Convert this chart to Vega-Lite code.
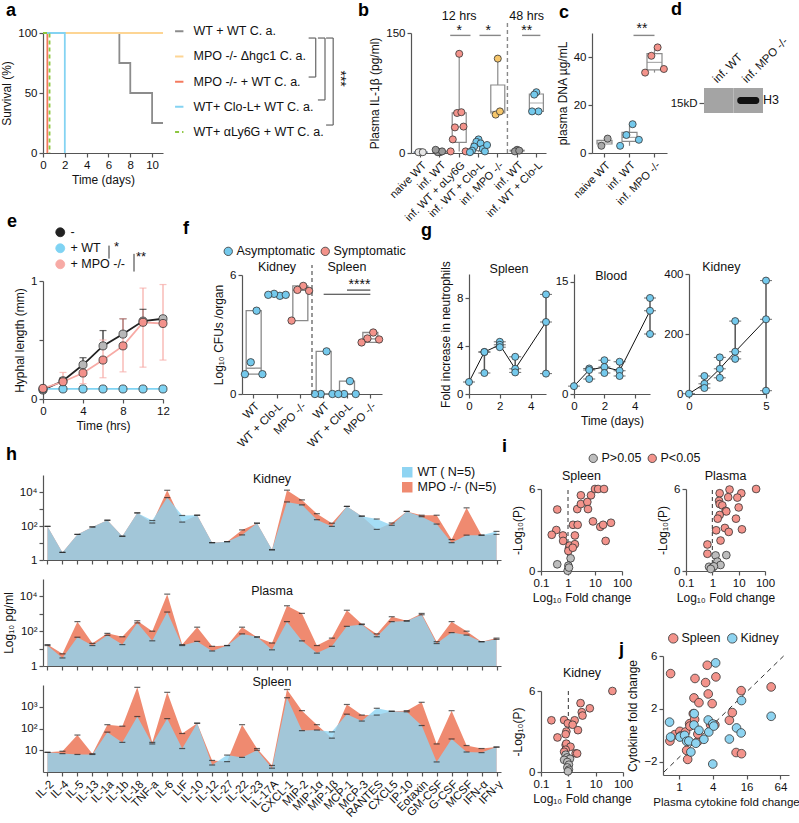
{
"$schema":"https://vega.github.io/schema/vega-lite/v6.json",
"background":"white",
"padding":{"left":0,"top":1,"right":5,"bottom":3},
"config":{
 "font":"Liberation Sans",
 "view":{"stroke":null},
 "axis":{"grid":false,"domainColor":"#555","tickColor":"#555","labelColor":"#111","titleColor":"#111","labelFontSize":11.5,"titleFontSize":12,"titleFontWeight":"normal","tickSize":4,"labelPadding":2,"titlePadding":4,"domainWidth":1.2,"tickWidth":1.2,"labelFlush":false,"labelOverlap":false},
 "title":{"fontSize":18,"fontWeight":"bold","anchor":"start","frame":"group","color":"#000","offset":0},
 "legend":{"labelFontSize":12,"labelColor":"#111"},
 "text":{"fontSize":12,"color":"#111"}
},
"datasets":{
 "surv":[
  {"grp":"WT + WT C. a.","t":0,"s":100},{"grp":"WT + WT C. a.","t":7,"s":75},{"grp":"WT + WT C. a.","t":8,"s":50},{"grp":"WT + WT C. a.","t":10,"s":25},{"grp":"WT + WT C. a.","t":11,"s":25},
  {"grp":"MPO -/- Δhgc1 C. a.","t":0,"s":100},{"grp":"MPO -/- Δhgc1 C. a.","t":11,"s":100},
  {"grp":"MPO -/- + WT C. a.","t":0,"s":100},{"grp":"MPO -/- + WT C. a.","t":0.4,"s":0},
  {"grp":"WT+ Clo-L+ WT C. a.","t":0,"s":100},{"grp":"WT+ Clo-L+ WT C. a.","t":2,"s":0},
  {"grp":"WT+ αLy6G + WT C. a.","t":0,"s":100},{"grp":"WT+ αLy6G + WT C. a.","t":0.6,"s":0}
 ],
 "il1b":[
  {"g":"naive WT","r":0,"v":1},{"g":"naive WT","r":1,"v":1},{"g":"naive WT","r":2,"v":1},
  {"g":"inf. WT","r":0,"v":1},{"g":"inf. WT","r":1,"v":1},{"g":"inf. WT","r":2,"v":2},{"g":"inf. WT","r":3,"v":4},
  {"g":"inf. WT + αLy6G","r":0,"v":124},{"g":"inf. WT + αLy6G","r":1,"v":50},{"g":"inf. WT + αLy6G","r":2,"v":51},{"g":"inf. WT + αLy6G","r":3,"v":32},{"g":"inf. WT + αLy6G","r":4,"v":33},{"g":"inf. WT + αLy6G","r":5,"v":17},{"g":"inf. WT + αLy6G","r":6,"v":2},{"g":"inf. WT + αLy6G","r":7,"v":2},
  {"g":"inf. WT + Clo-L","r":0,"v":17},{"g":"inf. WT + Clo-L","r":1,"v":14},{"g":"inf. WT + Clo-L","r":2,"v":12},{"g":"inf. WT + Clo-L","r":3,"v":8},{"g":"inf. WT + Clo-L","r":4,"v":5},{"g":"inf. WT + Clo-L","r":5,"v":3},{"g":"inf. WT + Clo-L","r":6,"v":2},{"g":"inf. WT + Clo-L","r":7,"v":1},{"g":"inf. WT + Clo-L","r":8,"v":10},
  {"g":"inf. MPO -/-","r":0,"v":118},{"g":"inf. MPO -/-","r":1,"v":48},{"g":"inf. MPO -/-","r":2,"v":52},
  {"g":"inf. WT ","r":0,"v":4},{"g":"inf. WT ","r":1,"v":2},{"g":"inf. WT ","r":2,"v":3},
  {"g":"inf. WT + Clo-L ","r":0,"v":76},{"g":"inf. WT + Clo-L ","r":1,"v":73},{"g":"inf. WT + Clo-L ","r":2,"v":52},{"g":"inf. WT + Clo-L ","r":3,"v":52}
 ],
 "dna":[
  {"g":"naive WT","r":0,"v":6},{"g":"naive WT","r":1,"v":3},
  {"g":"inf. WT","r":0,"v":12},{"g":"inf. WT","r":1,"v":7.5},{"g":"inf. WT","r":2,"v":5.5},{"g":"inf. WT","r":3,"v":3},
  {"g":"inf. MPO -/-","r":0,"v":44},{"g":"inf. MPO -/-","r":1,"v":40.5},{"g":"inf. MPO -/-","r":2,"v":35},{"g":"inf. MPO -/-","r":3,"v":33.5}
 ],
 "blot":[{"lane":"inf. WT","h":0},{"lane":"inf. MPO -/-","h":1}],
 "hyph":[
  {"grp":"-","t":0,"m":0.076,"lo":0.076,"hi":0.09},{"grp":"-","t":2,"m":0.155,"lo":0.155,"hi":0.18},{"grp":"-","t":4,"m":0.29,"lo":0.29,"hi":0.35},{"grp":"-","t":6,"m":0.45,"lo":0.45,"hi":0.58},{"grp":"-","t":8,"m":0.55,"lo":0.55,"hi":0.68},{"grp":"-","t":10,"m":0.66,"lo":0.66,"hi":0.76},{"grp":"-","t":12,"m":0.68,"lo":0.68,"hi":0.7},
  {"grp":"+ WT","t":0,"m":0.085,"lo":0.085,"hi":0.085},{"grp":"+ WT","t":2,"m":0.085,"lo":0.085,"hi":0.085},{"grp":"+ WT","t":4,"m":0.085,"lo":0.085,"hi":0.085},{"grp":"+ WT","t":6,"m":0.085,"lo":0.085,"hi":0.085},{"grp":"+ WT","t":8,"m":0.085,"lo":0.085,"hi":0.085},{"grp":"+ WT","t":10,"m":0.085,"lo":0.085,"hi":0.085},{"grp":"+ WT","t":12,"m":0.085,"lo":0.085,"hi":0.085},
  {"grp":"+ MPO -/-","t":0,"m":0.09,"lo":0.08,"hi":0.1},{"grp":"+ MPO -/-","t":2,"m":0.146,"lo":0.08,"hi":0.225},{"grp":"+ MPO -/-","t":4,"m":0.22,"lo":0.13,"hi":0.3},{"grp":"+ MPO -/-","t":6,"m":0.33,"lo":0.18,"hi":0.5},{"grp":"+ MPO -/-","t":8,"m":0.45,"lo":0.23,"hi":0.68},{"grp":"+ MPO -/-","t":10,"m":0.65,"lo":0.27,"hi":0.94},{"grp":"+ MPO -/-","t":12,"m":0.64,"lo":0.33,"hi":0.97}
 ],
 "cfu":[
  {"g":"WT","r":0,"v":4.2,"st":"Asymptomatic"},{"g":"WT","r":1,"v":1.6,"st":"Asymptomatic"},{"g":"WT","r":2,"v":1.0,"st":"Asymptomatic"},{"g":"WT","r":3,"v":1.0,"st":"Asymptomatic"},
  {"g":"WT + Clo-L","r":0,"v":4.95,"st":"Asymptomatic"},{"g":"WT + Clo-L","r":1,"v":5.05,"st":"Asymptomatic"},{"g":"WT + Clo-L","r":2,"v":5.0,"st":"Asymptomatic"},{"g":"WT + Clo-L","r":3,"v":5.0,"st":"Asymptomatic"},
  {"g":"MPO -/-","r":0,"v":5.45,"st":"Symptomatic"},{"g":"MPO -/-","r":1,"v":5.25,"st":"Symptomatic"},{"g":"MPO -/-","r":2,"v":5.2,"st":"Symptomatic"},{"g":"MPO -/-","r":3,"v":3.7,"st":"Symptomatic"},
  {"g":"WT ","r":0,"v":2.15,"st":"Asymptomatic"},{"g":"WT ","r":1,"v":0,"st":"Asymptomatic"},{"g":"WT ","r":2,"v":0,"st":"Asymptomatic"},{"g":"WT ","r":3,"v":0,"st":"Asymptomatic"},
  {"g":"WT + Clo-L ","r":0,"v":0.65,"st":"Asymptomatic"},{"g":"WT + Clo-L ","r":1,"v":0,"st":"Asymptomatic"},{"g":"WT + Clo-L ","r":2,"v":0,"st":"Asymptomatic"},{"g":"WT + Clo-L ","r":3,"v":0,"st":"Asymptomatic"},
  {"g":"MPO -/- ","r":0,"v":3.1,"st":"Symptomatic"},{"g":"MPO -/- ","r":1,"v":2.8,"st":"Symptomatic"},{"g":"MPO -/- ","r":2,"v":2.75,"st":"Symptomatic"},{"g":"MPO -/- ","r":3,"v":2.6,"st":"Symptomatic"}
 ],
 "neutS":[{"d":0,"v":1},{"d":1,"v":3.5},{"d":1,"v":3.5},{"d":1,"v":1.75},{"d":2,"v":4.35},{"d":2,"v":4.1},{"d":2,"v":3.9},{"d":3,"v":3.1},{"d":3,"v":2.1},{"d":3,"v":1.8},{"d":5,"v":8.3},{"d":5,"v":6.0},{"d":5,"v":1.7}],
 "neutB":[{"d":0,"v":1.05},{"d":1,"v":3.4},{"d":1,"v":3.2},{"d":1,"v":2.0},{"d":2,"v":4.5},{"d":2,"v":3.6},{"d":2,"v":2.8},{"d":3,"v":4.3},{"d":3,"v":3.1},{"d":3,"v":2.4},{"d":5,"v":12.8},{"d":5,"v":11.1},{"d":5,"v":8.0}],
 "neutK":[{"d":0,"v":1},{"d":1,"v":60},{"d":1,"v":34},{"d":1,"v":20},{"d":2,"v":122},{"d":2,"v":84},{"d":2,"v":54},{"d":3,"v":243},{"d":3,"v":141},{"d":3,"v":117},{"d":5,"v":378},{"d":5,"v":249},{"d":5,"v":11}],
 "cytoK":[{"c":"IL-2","wt":95,"mpo":95},{"c":"IL-4","wt":2.8,"mpo":2.8},{"c":"IL-5","wt":32,"mpo":32},{"c":"IL-13","wt":88,"mpo":88},{"c":"IL-1a","wt":218,"mpo":218},{"c":"IL-1b","wt":25,"mpo":25},{"c":"IL-18","wt":590,"mpo":590},{"c":"TNF-a","wt":210,"mpo":150},{"c":"IL-6","wt":4700,"mpo":12600},{"c":"LIF","wt":415,"mpo":170},{"c":"IL-10","wt":430,"mpo":430},{"c":"IL-12","wt":10.5,"mpo":10.5},{"c":"IL-27","wt":12,"mpo":12},{"c":"IL-22","wt":30,"mpo":59},{"c":"IL-23","wt":146,"mpo":146},{"c":"IL-17A","wt":4,"mpo":4},{"c":"CXCL-1","wt":2600,"mpo":12800},{"c":"MIP-2","wt":1750,"mpo":3400},{"c":"MIP-1α","wt":235,"mpo":530},{"c":"MIP-1β","wt":95,"mpo":146},{"c":"MCP-1","wt":1420,"mpo":1420},{"c":"MCP-3","wt":380,"mpo":380},{"c":"RANTES","wt":257,"mpo":63},{"c":"CXCL5","wt":110,"mpo":150},{"c":"IP-10","wt":720,"mpo":720},{"c":"Eotaxin","wt":355,"mpo":430},{"c":"GM-CSF","wt":130,"mpo":430},{"c":"G-CSF","wt":10.5,"mpo":16},{"c":"MCSF","wt":29,"mpo":1170},{"c":"IFN-α","wt":29,"mpo":29},{"c":"IFN-γ","wt":48,"mpo":32}],
 "cytoP":[{"c":"IL-2","wt":15,"mpo":17},{"c":"IL-4","wt":2.9,"mpo":5},{"c":"IL-5","wt":45,"mpo":355},{"c":"IL-13","wt":15,"mpo":20},{"c":"IL-1a","wt":58,"mpo":75},{"c":"IL-1b","wt":17,"mpo":48},{"c":"IL-18","wt":300,"mpo":400},{"c":"TNF-a","wt":28,"mpo":100},{"c":"IL-6","wt":1260,"mpo":13500},{"c":"LIF","wt":15,"mpo":17},{"c":"IL-10","wt":26,"mpo":170},{"c":"IL-12","wt":7.3,"mpo":13.5},{"c":"IL-27","wt":15,"mpo":15},{"c":"IL-22","wt":70,"mpo":170},{"c":"IL-23","wt":48,"mpo":45},{"c":"IL-17A","wt":8.5,"mpo":21},{"c":"CXCL-1","wt":355,"mpo":2900},{"c":"MIP-2","wt":28,"mpo":1050},{"c":"MIP-1α","wt":5.5,"mpo":15},{"c":"MIP-1β","wt":13.5,"mpo":40},{"c":"MCP-1","wt":190,"mpo":1600},{"c":"MCP-3","wt":240,"mpo":260},{"c":"RANTES","wt":48,"mpo":70},{"c":"CXCL5","wt":355,"mpo":680},{"c":"IP-10","wt":380,"mpo":400},{"c":"Eotaxin","wt":880,"mpo":1050},{"c":"GM-CSF","wt":19.5,"mpo":25},{"c":"G-CSF","wt":83,"mpo":355},{"c":"MCSF","wt":60,"mpo":100},{"c":"IFN-α","wt":25,"mpo":25},{"c":"IFN-γ","wt":34,"mpo":40}],
 "cytoS":[{"c":"IL-2","wt":8,"mpo":8},{"c":"IL-4","wt":7,"mpo":9},{"c":"IL-5","wt":6.4,"mpo":50},{"c":"IL-13","wt":6.4,"mpo":6.9},{"c":"IL-1a","wt":68,"mpo":150},{"c":"IL-1b","wt":23,"mpo":128},{"c":"IL-18","wt":355,"mpo":7800},{"c":"TNF-a","wt":19.5,"mpo":23},{"c":"IL-6","wt":285,"mpo":4600},{"c":"LIF","wt":12,"mpo":59},{"c":"IL-10","wt":175,"mpo":175},{"c":"IL-12","wt":2.1,"mpo":3.4},{"c":"IL-27","wt":6,"mpo":3},{"c":"IL-22","wt":4.7,"mpo":150},{"c":"IL-23","wt":10,"mpo":12},{"c":"IL-17A","wt":1.5,"mpo":2},{"c":"CXCL-1","wt":2600,"mpo":6200},{"c":"MIP-2","wt":80,"mpo":660},{"c":"MIP-1α","wt":85,"mpo":150},{"c":"MIP-1β","wt":70,"mpo":36},{"c":"MCP-1","wt":455,"mpo":1270},{"c":"MCP-3","wt":220,"mpo":415},{"c":"RANTES","wt":850,"mpo":415},{"c":"CXCL5","wt":620,"mpo":620},{"c":"IP-10","wt":585,"mpo":660},{"c":"Eotaxin","wt":137,"mpo":1600},{"c":"GM-CSF","wt":2.9,"mpo":19.5},{"c":"G-CSF","wt":33,"mpo":660},{"c":"MCSF","wt":8.3,"mpo":16.5},{"c":"IFN-α","wt":7.8,"mpo":12},{"c":"IFN-γ","wt":14,"mpo":14}],
 "volS":[{"fc":0.4,"p":4.5,"sig":"P<0.05"},{"fc":0.37,"p":3.0,"sig":"P<0.05"},{"fc":0.25,"p":2.65,"sig":"P<0.05"},{"fc":0.65,"p":2.6,"sig":"P<0.05"},{"fc":0.66,"p":2.2,"sig":"P<0.05"},{"fc":1.09,"p":1.67,"sig":"P<0.05"},{"fc":1.15,"p":1.86,"sig":"P<0.05"},{"fc":1.03,"p":1.47,"sig":"P<0.05"},{"fc":1.53,"p":3.38,"sig":"P<0.05"},{"fc":2.28,"p":3.38,"sig":"P<0.05"},{"fc":1.8,"p":2.6,"sig":"P<0.05"},{"fc":1.8,"p":1.96,"sig":"P<0.05"},{"fc":1.5,"p":1.7,"sig":"P<0.05"},{"fc":2.2,"p":4.53,"sig":"P<0.05"},{"fc":3.0,"p":4.9,"sig":"P<0.05"},{"fc":3.0,"p":5.54,"sig":"P<0.05"},{"fc":5.2,"p":5.05,"sig":"P<0.05"},{"fc":5.5,"p":4.53,"sig":"P<0.05"},{"fc":7.1,"p":5.54,"sig":"P<0.05"},{"fc":10,"p":6.0,"sig":"P<0.05"},{"fc":13,"p":6.0,"sig":"P<0.05"},{"fc":21.6,"p":6.0,"sig":"P<0.05"},{"fc":8.4,"p":3.63,"sig":"P<0.05"},{"fc":15.7,"p":3.23,"sig":"P<0.05"},{"fc":20,"p":3.38,"sig":"P<0.05"},{"fc":39,"p":3.53,"sig":"P<0.05"},{"fc":24.8,"p":2.2,"sig":"P<0.05"},
  {"fc":0.4,"p":0.49,"sig":"P>0.05"},{"fc":1.25,"p":0.93,"sig":"P>0.05"},{"fc":1.03,"p":0.39,"sig":"P>0.05"},{"fc":0.97,"p":0.02,"sig":"P>0.05"},{"fc":1.09,"p":0.25,"sig":"P>0.05"}],
 "volP":[{"fc":4.5,"p":5.96,"sig":"P<0.05"},{"fc":46,"p":6.0,"sig":"P<0.05"},{"fc":1.9,"p":5.69,"sig":"P<0.05"},{"fc":12.6,"p":5.69,"sig":"P<0.05"},{"fc":4,"p":5.4,"sig":"P<0.05"},{"fc":8.9,"p":5.37,"sig":"P<0.05"},{"fc":1.8,"p":5.13,"sig":"P<0.05"},{"fc":1.9,"p":4.9,"sig":"P<0.05"},{"fc":2.4,"p":4.8,"sig":"P<0.05"},{"fc":3.2,"p":4.4,"sig":"P<0.05"},{"fc":3.4,"p":4.36,"sig":"P<0.05"},{"fc":10,"p":4.65,"sig":"P<0.05"},{"fc":1.9,"p":4.1,"sig":"P<0.05"},{"fc":1.6,"p":3.83,"sig":"P<0.05"},{"fc":7.9,"p":3.83,"sig":"P<0.05"},{"fc":1.4,"p":2.98,"sig":"P<0.05"},{"fc":3,"p":3.15,"sig":"P<0.05"},{"fc":4.2,"p":2.86,"sig":"P<0.05"},{"fc":13.3,"p":3.05,"sig":"P<0.05"},{"fc":2.05,"p":2.23,"sig":"P<0.05"},{"fc":0.65,"p":1.94,"sig":"P<0.05"},{"fc":0.65,"p":1.26,"sig":"P<0.05"},
  {"fc":1.33,"p":1.14,"sig":"P>0.05"},{"fc":3.4,"p":1.16,"sig":"P>0.05"},{"fc":1.55,"p":0.68,"sig":"P>0.05"},{"fc":2.05,"p":0.44,"sig":"P>0.05"},{"fc":0.75,"p":0.31,"sig":"P>0.05"},{"fc":1.0,"p":0.24,"sig":"P>0.05"},{"fc":1.15,"p":0.34,"sig":"P>0.05"},{"fc":0.87,"p":0.15,"sig":"P>0.05"}],
 "volK":[{"fc":41,"p":6.0,"sig":"P<0.05"},{"fc":2.8,"p":5.1,"sig":"P<0.05"},{"fc":6.1,"p":4.72,"sig":"P<0.05"},{"fc":3.1,"p":4.43,"sig":"P<0.05"},{"fc":3.3,"p":4.18,"sig":"P<0.05"},{"fc":0.24,"p":3.83,"sig":"P<0.05"},{"fc":0.7,"p":3.85,"sig":"P<0.05"},{"fc":1.7,"p":3.83,"sig":"P<0.05"},{"fc":0.96,"p":3.6,"sig":"P<0.05"},{"fc":1.44,"p":3.5,"sig":"P<0.05"},{"fc":2.25,"p":3.1,"sig":"P<0.05"},{"fc":0.85,"p":3.0,"sig":"P<0.05"},{"fc":0.8,"p":2.8,"sig":"P<0.05"},{"fc":0.4,"p":2.56,"sig":"P<0.05"},{"fc":0.8,"p":2.0,"sig":"P<0.05"},{"fc":0.84,"p":2.1,"sig":"P<0.05"},{"fc":1.2,"p":1.87,"sig":"P<0.05"},{"fc":1.85,"p":1.38,"sig":"P<0.05"},{"fc":2.1,"p":1.37,"sig":"P<0.05"},{"fc":0.8,"p":1.65,"sig":"P<0.05"},{"fc":0.7,"p":1.5,"sig":"P<0.05"},
  {"fc":0.8,"p":1.28,"sig":"P>0.05"},{"fc":0.9,"p":1.08,"sig":"P>0.05"},{"fc":1.15,"p":0.98,"sig":"P>0.05"},{"fc":0.7,"p":0.9,"sig":"P>0.05"},{"fc":0.92,"p":0.74,"sig":"P>0.05"},{"fc":1.05,"p":0.54,"sig":"P>0.05"},{"fc":0.92,"p":0.34,"sig":"P>0.05"},{"fc":1.05,"p":0.17,"sig":"P>0.05"},{"fc":0.97,"p":0.05,"sig":"P>0.05"}],
 "jsc":[{"o":"Spleen","x":0.69,"y":-0.43},{"o":"Spleen","x":0.71,"y":4.67},{"o":"Spleen","x":0.84,"y":0.05},{"o":"Spleen","x":1.04,"y":0.3},{"o":"Spleen","x":1.07,"y":-0.05},{"o":"Spleen","x":1.31,"y":0.25},{"o":"Spleen","x":1.37,"y":-1.14},{"o":"Spleen","x":1.43,"y":-1.82},{"o":"Spleen","x":1.55,"y":0.88},{"o":"Spleen","x":1.57,"y":0.7},{"o":"Spleen","x":1.85,"y":2.83},{"o":"Spleen","x":1.93,"y":4.3},{"o":"Spleen","x":1.8,"y":1.64},{"o":"Spleen","x":1.9,"y":1.21},{"o":"Spleen","x":2.12,"y":-0.5},{"o":"Spleen","x":2.17,"y":0.1},{"o":"Spleen","x":2.27,"y":2.47},{"o":"Spleen","x":2.98,"y":3.99},{"o":"Spleen","x":3.19,"y":5.3},{"o":"Spleen","x":3.32,"y":3.13},{"o":"Spleen","x":3.9,"y":2.4},{"o":"Spleen","x":3.66,"y":0.8},{"o":"Spleen","x":4.36,"y":0.8},{"o":"Spleen","x":4.55,"y":4.42},{"o":"Spleen","x":7.9,"y":1.14},{"o":"Spleen","x":8.9,"y":1.72},{"o":"Spleen","x":10.4,"y":-1.3},{"o":"Spleen","x":12.8,"y":3.38},{"o":"Spleen","x":13.0,"y":-1.39},{"o":"Spleen","x":43.8,"y":3.66},
  {"o":"Kidney","x":0.68,"y":1.0},{"o":"Kidney","x":0.71,"y":-0.13},{"o":"Kidney","x":1.04,"y":-0.13},{"o":"Kidney","x":1.26,"y":0},{"o":"Kidney","x":1.37,"y":-0.45},{"o":"Kidney","x":1.5,"y":-0.43},{"o":"Kidney","x":1.63,"y":-1.26},{"o":"Kidney","x":1.85,"y":0.78},{"o":"Kidney","x":1.87,"y":1.64},{"o":"Kidney","x":2.0,"y":-0.6},{"o":"Kidney","x":2.27,"y":0.38},{"o":"Kidney","x":2.78,"y":-0.3},{"o":"Kidney","x":3.32,"y":1.16},{"o":"Kidney","x":3.4,"y":0.25},{"o":"Kidney","x":4.0,"y":0.86},{"o":"Kidney","x":4.17,"y":0.7},{"o":"Kidney","x":4.5,"y":5.48},{"o":"Kidney","x":4.0,"y":-2.17},{"o":"Kidney","x":7.9,"y":-0.28},{"o":"Kidney","x":10.6,"y":0.56},{"o":"Kidney","x":12.8,"y":0.18},{"o":"Kidney","x":13.0,"y":2.63},{"o":"Kidney","x":43.8,"y":1.44}],
 "diag":[{"x":0.54,"y":-2.78},{"x":73,"y":6}]
},
"resolve":{"scale":{"color":"independent","fill":"independent","stroke":"independent","strokeDash":"independent","opacity":"independent","xOffset":"independent"}},
"vconcat":[
 {"resolve":{"scale":{"color":"independent","fill":"independent","stroke":"independent","strokeDash":"independent","opacity":"independent","xOffset":"independent"}},
  "vconcat":[
  {"resolve":{"scale":{"color":"independent","fill":"independent","stroke":"independent","strokeDash":"independent","opacity":"independent","xOffset":"independent"}},
   "hconcat":[
   {"title":{"text":"a","dx":-37,"offset":5},
    "width":368,"height":120,
    "layer":[
     {"data":{"name":"surv"},"mark":{"type":"line","interpolate":"step-after","strokeWidth":1.8},
      "encoding":{
       "x":{"field":"t","type":"quantitative","scale":{"domain":[0,11],"nice":false,"range":[0,120]},"axis":{"values":[0,2,4,6,8,10],"title":"Time (days)"}},
       "y":{"field":"s","type":"quantitative","scale":{"domain":[0,100],"nice":false},"axis":{"values":[0,50,100],"title":"Survival (%)"}},
       "color":{"field":"grp","type":"nominal","scale":{"domain":["WT + WT C. a.","MPO -/- Δhgc1 C. a.","MPO -/- + WT C. a.","WT+ Clo-L+ WT C. a.","WT+ αLy6G + WT C. a."],"range":["#8c8c8c","#fdd594","#f47a5e","#84d3f2","#8cc63f"]},
        "legend":{"orient":"none","legendX":130,"legendY":-8,"title":null,"symbolType":"stroke","symbolSize":70,"symbolStrokeWidth":2,"rowPadding":12.2,"labelFontSize":12.5,"labelOffset":8,
         "encode":{"symbols":{"update":{"strokeDash":{"signal":"datum.value === 'WT+ αLy6G + WT C. a.' ? [3,2] : [1,0]"}}}}}},
       "strokeDash":{"field":"grp","type":"nominal","scale":{"domain":["WT + WT C. a.","MPO -/- Δhgc1 C. a.","MPO -/- + WT C. a.","WT+ Clo-L+ WT C. a.","WT+ αLy6G + WT C. a."],"range":[[1,0],[1,0],[1,0],[1,0],[4,3]]},"legend":null}
      }},
     {"data":{"values":[{}]},"mark":{"type":"rule","color":"#666","strokeWidth":1.2},"encoding":{"x":{"datum":25.0},"y":{"datum":95.8},"y2":{"datum":63.3}}},
     {"data":{"values":[{}]},"mark":{"type":"rule","color":"#666","strokeWidth":1.2},"encoding":{"x":{"datum":24.35},"x2":{"datum":25.0},"y":{"datum":95.8}}},
     {"data":{"values":[{}]},"mark":{"type":"rule","color":"#666","strokeWidth":1.2},"encoding":{"x":{"datum":24.35},"x2":{"datum":25.0},"y":{"datum":63.3}}},
     {"data":{"values":[{}]},"mark":{"type":"rule","color":"#666","strokeWidth":1.2},"encoding":{"x":{"datum":25.85},"y":{"datum":95.8},"y2":{"datum":44.2}}},
     {"data":{"values":[{}]},"mark":{"type":"rule","color":"#666","strokeWidth":1.2},"encoding":{"x":{"datum":25.2},"x2":{"datum":25.85},"y":{"datum":95.8}}},
     {"data":{"values":[{}]},"mark":{"type":"rule","color":"#666","strokeWidth":1.2},"encoding":{"x":{"datum":25.2},"x2":{"datum":25.85},"y":{"datum":44.2}}},
     {"data":{"values":[{}]},"mark":{"type":"rule","color":"#666","strokeWidth":1.2},"encoding":{"x":{"datum":26.6},"y":{"datum":95.8},"y2":{"datum":23.3}}},
     {"data":{"values":[{}]},"mark":{"type":"rule","color":"#666","strokeWidth":1.2},"encoding":{"x":{"datum":25.95},"x2":{"datum":26.6},"y":{"datum":95.8}}},
     {"data":{"values":[{}]},"mark":{"type":"rule","color":"#666","strokeWidth":1.2},"encoding":{"x":{"datum":25.95},"x2":{"datum":26.6},"y":{"datum":23.3}}},
     {"data":{"values":[{}]},"mark":{"type":"text","angle":90,"fontSize":14,"baseline":"middle","align":"center"},"encoding":{"x":{"datum":27.2},"y":{"datum":62},"text":{"value":"***"}}}
    ]},
   {"title":{"text":"b","dx":-53,"offset":-10},
    "width":181,"height":120,
    "layer":[
     {"data":{"name":"il1b"},"mark":{"type":"boxplot","extent":"min-max","size":14,"ticks":false,"box":{"color":"white","stroke":"#8a8a8a","strokeWidth":1.2},"median":{"color":"#8a8a8a","thickness":1.2},"rule":{"color":"#8a8a8a","strokeWidth":1.2}},
      "encoding":{
       "x":{"field":"g","type":"nominal","scale":{"domain":["naive WT","inf. WT","inf. WT + αLy6G","inf. WT + Clo-L","inf. MPO -/-","inf. WT ","inf. WT + Clo-L "],"range":[0,135],"paddingInner":0,"paddingOuter":0},"axis":{"labelAngle":-45,"title":null,"labelFontSize":11}},
       "y":{"field":"v","type":"quantitative","scale":{"domain":[0,150],"nice":false},"axis":{"values":[0,50,100,150],"title":"Plasma IL-1β (pg/ml)"}}}},
     {"data":{"name":"il1b"},"mark":{"type":"circle","size":50,"stroke":"#333","strokeWidth":0.8,"opacity":1},
      "encoding":{
       "x":{"field":"g","type":"nominal"},
       "xOffset":{"field":"r","type":"nominal","scale":{"domain":[7,5,3,1,0,2,4,6,8]}},
       "y":{"field":"v","type":"quantitative"},
       "fill":{"field":"g","type":"nominal","scale":{"domain":["naive WT","inf. WT","inf. WT + αLy6G","inf. WT + Clo-L","inf. MPO -/-","inf. WT ","inf. WT + Clo-L "],"range":["#e6e6e6","#9a9a9a","#f3938b","#74c9ec","#f6c66a","#9a9a9a","#74c9ec"]},"legend":null}}},
     {"data":{"values":[{}]},"mark":{"type":"rule","strokeDash":[4,3],"color":"#888","strokeWidth":1.4},"encoding":{"x":{"datum":"inf. WT ","bandPosition":0},"y":{"datum":0},"y2":{"datum":166}}},
     {"data":{"values":[{}]},"mark":{"type":"rule","color":"#888","strokeWidth":1.4,"xOffset":-9,"x2Offset":-8},"encoding":{"x":{"datum":"inf. WT + αLy6G"},"x2":{"datum":"inf. WT + Clo-L"},"y":{"datum":147}}},
     {"data":{"values":[{}]},"mark":{"type":"rule","color":"#888","strokeWidth":1.4,"xOffset":1,"x2Offset":3},"encoding":{"x":{"datum":"inf. WT + Clo-L"},"x2":{"datum":"inf. MPO -/-"},"y":{"datum":147}}},
     {"data":{"values":[{}]},"mark":{"type":"rule","color":"#888","strokeWidth":1.4,"xOffset":5,"x2Offset":4},"encoding":{"x":{"datum":"inf. WT "},"x2":{"datum":"inf. WT + Clo-L "},"y":{"datum":147}}},
     {"data":{"values":[{}]},"mark":{"type":"text","fontSize":14,"baseline":"middle"},"encoding":{"x":{"datum":"inf. WT + αLy6G"},"y":{"datum":153},"text":{"value":"*"}}},
     {"data":{"values":[{}]},"mark":{"type":"text","fontSize":14,"baseline":"middle"},"encoding":{"x":{"datum":"inf. WT + Clo-L","bandPosition":1},"y":{"datum":153},"text":{"value":"*"}}},
     {"data":{"values":[{}]},"mark":{"type":"text","fontSize":14,"baseline":"middle"},"encoding":{"x":{"datum":"inf. WT ","bandPosition":1},"y":{"datum":153},"text":{"value":"**"}}},
     {"data":{"values":[{}]},"mark":{"type":"text","fontSize":12.5,"baseline":"alphabetic"},"encoding":{"x":{"datum":"inf. WT + αLy6G"},"y":{"datum":166},"text":{"value":"12 hrs"}}},
     {"data":{"values":[{}]},"mark":{"type":"text","fontSize":12.5,"baseline":"alphabetic"},"encoding":{"x":{"datum":"inf. WT ","bandPosition":1},"y":{"datum":166},"text":{"value":"48 hrs"}}}
    ]},
   {"title":{"text":"c","dx":-33,"offset":0},
    "width":112,"height":120,
    "layer":[
     {"data":{"name":"dna"},"mark":{"type":"boxplot","extent":"min-max","size":15,"ticks":false,"box":{"color":"white","stroke":"#8a8a8a","strokeWidth":1.2},"median":{"color":"#8a8a8a","thickness":1.2},"rule":{"color":"#8a8a8a","strokeWidth":1.2}},
      "encoding":{
       "x":{"field":"g","type":"nominal","scale":{"domain":["naive WT","inf. WT","inf. MPO -/-"],"range":[0,75],"paddingInner":0,"paddingOuter":0},"axis":{"labelAngle":-45,"title":null,"labelFontSize":11}},
       "y":{"field":"v","type":"quantitative","scale":{"domain":[0,50],"nice":false},"axis":{"values":[0,10,20,30,40,50],"labelExpr":"datum.value % 20 == 0 ? datum.label : ''","title":"plasma DNA  µg/mL"}}}},
     {"data":{"name":"dna"},"mark":{"type":"circle","size":50,"stroke":"#333","strokeWidth":0.8,"opacity":1},
      "encoding":{
       "x":{"field":"g","type":"nominal"},
       "xOffset":{"field":"r","type":"nominal","scale":{"domain":[3,1,0,2]}},
       "y":{"field":"v","type":"quantitative"},
       "fill":{"field":"g","type":"nominal","scale":{"domain":["naive WT","inf. WT","inf. MPO -/-"],"range":["#a9a9a9","#74c9ec","#f3938b"]},"legend":null}}},
     {"data":{"values":[{}]},"mark":{"type":"rule","color":"#888","strokeWidth":1.4,"xOffset":4},"encoding":{"x":{"datum":"inf. WT"},"x2":{"datum":"inf. MPO -/-"},"y":{"datum":49}}},
     {"data":{"values":[{}]},"mark":{"type":"text","fontSize":14,"baseline":"middle"},"encoding":{"x":{"datum":"inf. MPO -/-","bandPosition":0},"y":{"datum":51.5},"text":{"value":"**"}}}
    ]},
   {"title":{"text":"d","dx":-33,"offset":14},
    "width":59,"height":120,
    "layer":[
     {"data":{"name":"blot"},"mark":{"type":"bar","color":"#a4a4a4"},
      "encoding":{
       "x":{"field":"lane","type":"nominal","scale":{"domain":["inf. WT","inf. MPO -/-"],"range":[0,59],"paddingInner":0,"paddingOuter":0},"axis":null},
       "y":{"datum":55,"type":"quantitative","scale":{"domain":[0,120],"reverse":true},"axis":{"values":[70],"labelExpr":"'15kD'","title":null,"domain":false,"tickSize":5,"labelFontSize":11.5}},
       "y2":{"datum":80}}},
     {"data":{"name":"blot"},"mark":{"type":"bar","color":"#111","cornerRadius":3,"width":22},
      "encoding":{"x":{"field":"lane","type":"nominal"},"y":{"datum":64},"y2":{"datum":71},"opacity":{"field":"h","type":"quantitative","scale":{"domain":[0,1],"range":[0,1]},"legend":null}}},
     {"data":{"name":"blot"},"mark":{"type":"text","angle":-45,"align":"left","baseline":"bottom","fontSize":11.5},
      "encoding":{"x":{"field":"lane","type":"nominal"},"y":{"datum":52},"text":{"field":"lane"}}},
     {"data":{"values":[{}]},"mark":{"type":"text","align":"left","baseline":"middle","fontSize":12.5},
      "encoding":{"x":{"datum":"inf. MPO -/-","bandPosition":1},"y":{"datum":67},"text":{"value":" H3"}}}
    ]}
  ],"spacing":0,"bounds":"flush"},
  {"resolve":{"scale":{"color":"independent","fill":"independent","stroke":"independent","strokeDash":"independent","opacity":"independent","xOffset":"independent"}},
   "hconcat":[
   {"title":{"text":"e","dx":-36,"offset":-5},
    "width":199,"height":125,
    "layer":[
     {"data":{"name":"hyph"},"mark":{"type":"rule","strokeWidth":1.2},
      "encoding":{
       "x":{"field":"t","type":"quantitative","scale":{"domain":[0,12],"nice":false,"range":[0,120]},"axis":{"values":[0,2,4,6,8,10,12],"title":"Time (hrs)"}},
       "y":{"field":"lo","type":"quantitative","scale":{"domain":[0,1],"nice":false,"range":[125,7]},"axis":{"values":[0,0.5,1],"labelExpr":"datum.value == 1 ? '1' : datum.value == 0 ? '0' : ''","title":"Hyphal length (mm)"}},
       "y2":{"field":"hi"},
       "stroke":{"field":"grp","type":"nominal","scale":{"domain":["-","+ WT","+ MPO -/-"],"range":["#222","#7fd3f3","#f7aaa5"]},
        "legend":{"orient":"none","legendX":11,"legendY":-48,"title":null,"symbolType":"circle","symbolSize":80,"symbolStrokeWidth":0.8,"rowPadding":3,"labelFontSize":12.5,"encode":{"symbols":{"update":{"stroke":{"value":"#333"},"fill":{"signal":"datum.value === '-' ? '#b8b8b8' : datum.value === '+ WT' ? '#7fd3f3' : '#f3918b'"},"opacity":{"value":1}}}}}}}},
     {"data":{"name":"hyph"},"mark":{"type":"tick","orient":"horizontal","size":7,"thickness":1.2},
      "encoding":{"x":{"field":"t","type":"quantitative"},"y":{"field":"hi","type":"quantitative"},"color":{"field":"grp","type":"nominal","scale":{"domain":["-","+ WT","+ MPO -/-"],"range":["#222","#7fd3f3","#f7aaa5"]},
        "legend":{"orient":"none","legendX":11,"legendY":-48,"title":null,"symbolType":"circle","symbolSize":80,"symbolStrokeWidth":0.8,"rowPadding":3,"labelFontSize":12.5,"encode":{"symbols":{"update":{"stroke":{"value":"#333"},"fill":{"signal":"datum.value === '-' ? '#b8b8b8' : datum.value === '+ WT' ? '#7fd3f3' : '#f3918b'"},"opacity":{"value":1}}}}}}}},
     {"data":{"name":"hyph"},"mark":{"type":"tick","orient":"horizontal","size":7,"thickness":1.2},
      "encoding":{"x":{"field":"t","type":"quantitative"},"y":{"field":"lo","type":"quantitative"},"color":{"field":"grp","type":"nominal"}}},
     {"data":{"name":"hyph"},"mark":{"type":"line","strokeWidth":1.8},
      "encoding":{"x":{"field":"t","type":"quantitative"},"y":{"field":"m","type":"quantitative"},"stroke":{"field":"grp","type":"nominal"}}},
     {"data":{"name":"hyph"},"mark":{"type":"circle","size":65,"stroke":"#333","strokeWidth":0.8,"opacity":1},
      "encoding":{"x":{"field":"t","type":"quantitative"},"y":{"field":"m","type":"quantitative"},
       "fill":{"field":"grp","type":"nominal","scale":{"domain":["-","+ WT","+ MPO -/-"],"range":["#b8b8b8","#7fd3f3","#f3918b"]},
        "legend":{"orient":"none","legendX":11,"legendY":-48,"title":null,"symbolType":"circle","symbolSize":80,"symbolStrokeWidth":0.8,"rowPadding":3,"labelFontSize":12.5,"encode":{"symbols":{"update":{"stroke":{"value":"#333"},"fill":{"signal":"datum.value === '-' ? '#b8b8b8' : datum.value === '+ WT' ? '#7fd3f3' : '#f3918b'"},"opacity":{"value":1}}}}}}}},
     {"data":{"values":[{}]},"mark":{"type":"rule","color":"#333","strokeWidth":1},"encoding":{"x":{"datum":6.6},"y":{"datum":1.3},"y2":{"datum":1.19}}},
     {"data":{"values":[{}]},"mark":{"type":"text","fontSize":13,"align":"left","baseline":"middle"},"encoding":{"x":{"datum":7.1},"y":{"datum":1.29},"text":{"value":"*"}}},
     {"data":{"values":[{}]},"mark":{"type":"rule","color":"#333","strokeWidth":1},"encoding":{"x":{"datum":9.1},"y":{"datum":1.23},"y2":{"datum":1.08}}},
     {"data":{"values":[{}]},"mark":{"type":"text","fontSize":13,"align":"left","baseline":"middle"},"encoding":{"x":{"datum":9.3},"y":{"datum":1.2},"text":{"value":"**"}}}
    ]},
   {"title":{"text":"f","dx":-59,"offset":7},
    "width":227,"height":120,
    "layer":[
     {"data":{"name":"cfu"},"mark":{"type":"bar","fill":"white","stroke":"#8a8a8a","strokeWidth":1.3,"width":15},
      "encoding":{
       "x":{"field":"g","type":"nominal","scale":{"domain":["WT","WT + Clo-L","MPO -/-","WT ","WT + Clo-L ","MPO -/- "],"range":[0,140],"paddingInner":0,"paddingOuter":0},"axis":{"labelAngle":-45,"title":null}},
       "y":{"aggregate":"min","field":"v","type":"quantitative","scale":{"domain":[0,6],"nice":false,"range":[120,1]},"axis":{"values":[0,1,2,3,4,5,6],"title":"Log₁₀ CFUs /organ"}},
       "y2":{"aggregate":"max","field":"v"}}},
     {"data":{"name":"cfu"},"mark":{"type":"tick","orient":"horizontal","color":"#8a8a8a","size":15,"thickness":1.3},
      "encoding":{"x":{"field":"g","type":"nominal"},"y":{"aggregate":"median","field":"v","type":"quantitative"}}},
     {"data":{"name":"cfu"},"mark":{"type":"circle","size":55,"stroke":"#333","strokeWidth":0.8,"opacity":1},
      "encoding":{
       "x":{"field":"g","type":"nominal"},
       "xOffset":{"field":"r","type":"nominal","scale":{"domain":[3,1,0,2]}},
       "y":{"field":"v","type":"quantitative"},
       "fill":{"field":"st","type":"nominal","scale":{"domain":["Asymptomatic","Symptomatic"],"range":["#74c9ec","#f3938b"]},
        "legend":{"orient":"none","legendX":-20,"legendY":-29,"direction":"horizontal","title":null,"symbolType":"circle","symbolSize":70,"symbolStrokeColor":"#333","symbolStrokeWidth":0.8,"labelFontSize":12.5,"columnPadding":4,"labelOffset":2}}}},
     {"data":{"values":[{}]},"mark":{"type":"rule","strokeDash":[4,3],"color":"#555","strokeWidth":1.2},"encoding":{"x":{"datum":"WT ","bandPosition":0},"y":{"datum":0},"y2":{"datum":6.5}}},
     {"data":{"values":[{}]},"mark":{"type":"text","fontSize":12.5,"baseline":"middle"},"encoding":{"x":{"datum":"WT + Clo-L"},"y":{"datum":6.4},"text":{"value":"Kidney"}}},
     {"data":{"values":[{}]},"mark":{"type":"text","fontSize":12.5,"baseline":"middle"},"encoding":{"x":{"datum":"WT + Clo-L "},"y":{"datum":6.4},"text":{"value":"Spleen"}}},
     {"data":{"values":[{}]},"mark":{"type":"rule","color":"#333","strokeWidth":1.1},"encoding":{"x":{"datum":"WT "},"x2":{"datum":"MPO -/- "},"y":{"datum":5.03}}},
     {"data":{"values":[{}]},"mark":{"type":"rule","color":"#333","strokeWidth":1.1},"encoding":{"x":{"datum":"WT + Clo-L "},"x2":{"datum":"MPO -/- "},"y":{"datum":5.24}}},
     {"data":{"values":[{}]},"mark":{"type":"text","fontSize":14,"align":"right","baseline":"middle"},"encoding":{"x":{"datum":"MPO -/- "},"y":{"datum":5.5},"text":{"value":"****"}}}
    ]},
   {"title":{"text":"g","dx":-48,"offset":21},
    "width":105,"height":120,
    "layer":[
     {"data":{"name":"neutS"},"mark":{"type":"rule","color":"#555","strokeWidth":1.5},
      "encoding":{"x":{"field":"d","type":"quantitative","scale":{"domain":[0,5],"range":[0,77]},"axis":{"values":[0,1,2,3,4,5],"title":null}},
       "y":{"aggregate":"min","field":"v","type":"quantitative","scale":{"domain":[0,10]},"axis":{"values":[0,2,4,6,8,10],"title":"Fold increase in neutrophils"}},
       "y2":{"aggregate":"max","field":"v"}}},
     {"data":{"name":"neutS"},"mark":{"type":"line","color":"#111","strokeWidth":1},"encoding":{"x":{"field":"d","type":"quantitative"},"y":{"aggregate":"median","field":"v","type":"quantitative"}}},
     {"data":{"name":"neutS"},"mark":{"type":"tick","orient":"horizontal","color":"#333","size":12,"thickness":1},"encoding":{"x":{"field":"d","type":"quantitative"},"y":{"field":"v","type":"quantitative"}}},
     {"data":{"name":"neutS"},"mark":{"type":"circle","size":50,"color":"#74c9ec","stroke":"#333","strokeWidth":0.8,"opacity":1},"encoding":{"x":{"field":"d","type":"quantitative"},"y":{"field":"v","type":"quantitative"}}},
     {"data":{"values":[{}]},"mark":{"type":"text","fontSize":12.5,"baseline":"middle"},"encoding":{"x":{"datum":2.6},"y":{"datum":10.45},"text":{"value":"Spleen"}}}
    ]},
   {"width":115,"height":120,
    "layer":[
     {"data":{"name":"neutB"},"mark":{"type":"rule","color":"#555","strokeWidth":1.5},
      "encoding":{"x":{"field":"d","type":"quantitative","scale":{"domain":[0,5],"range":[0,76]},"axis":{"values":[0,1,2,3,4,5],"title":"Time (days)"}},
       "y":{"aggregate":"min","field":"v","type":"quantitative","scale":{"domain":[0,15]},"axis":{"values":[0,5,10,15],"title":null}},
       "y2":{"aggregate":"max","field":"v"}}},
     {"data":{"name":"neutB"},"mark":{"type":"line","color":"#111","strokeWidth":1},"encoding":{"x":{"field":"d","type":"quantitative"},"y":{"aggregate":"median","field":"v","type":"quantitative"}}},
     {"data":{"name":"neutB"},"mark":{"type":"tick","orient":"horizontal","color":"#333","size":12,"thickness":1},"encoding":{"x":{"field":"d","type":"quantitative"},"y":{"field":"v","type":"quantitative"}}},
     {"data":{"name":"neutB"},"mark":{"type":"circle","size":50,"color":"#74c9ec","stroke":"#333","strokeWidth":0.8,"opacity":1},"encoding":{"x":{"field":"d","type":"quantitative"},"y":{"field":"v","type":"quantitative"}}},
     {"data":{"values":[{}]},"mark":{"type":"text","fontSize":12.5,"baseline":"middle"},"encoding":{"x":{"datum":2.45},"y":{"datum":15.8},"text":{"value":"Blood"}}}
    ]},
   {"width":77,"height":120,
    "layer":[
     {"data":{"name":"neutK"},"mark":{"type":"rule","color":"#555","strokeWidth":1.5},
      "encoding":{"x":{"field":"d","type":"quantitative","scale":{"domain":[0,5],"range":[0,77]},"axis":{"values":[0,1,2,3,4,5],"title":null}},
       "y":{"aggregate":"min","field":"v","type":"quantitative","scale":{"domain":[0,400]},"axis":{"values":[0,100,200,300,400],"title":null}},
       "y2":{"aggregate":"max","field":"v"}}},
     {"data":{"name":"neutK"},"mark":{"type":"line","color":"#111","strokeWidth":1},"encoding":{"x":{"field":"d","type":"quantitative"},"y":{"aggregate":"median","field":"v","type":"quantitative"}}},
     {"data":{"name":"neutK"},"mark":{"type":"tick","orient":"horizontal","color":"#333","size":12,"thickness":1},"encoding":{"x":{"field":"d","type":"quantitative"},"y":{"field":"v","type":"quantitative"}}},
     {"data":{"name":"neutK"},"mark":{"type":"circle","size":50,"color":"#74c9ec","stroke":"#333","strokeWidth":0.8,"opacity":1},"encoding":{"x":{"field":"d","type":"quantitative"},"y":{"field":"v","type":"quantitative"}}},
     {"data":{"values":[{}]},"mark":{"type":"text","fontSize":12.5,"baseline":"middle"},"encoding":{"x":{"datum":2.1},"y":{"datum":424},"text":{"value":"Kidney"}}}
    ]}
  ],"spacing":0,"bounds":"flush"}
 ],"spacing":-11,"bounds":"full"},
 {"resolve":{"scale":{"color":"independent","fill":"independent","stroke":"independent","strokeDash":"independent","opacity":"independent","xOffset":"independent"}},
  "hconcat":[
  {"resolve":{"scale":{"color":"independent","fill":"independent","stroke":"independent","strokeDash":"independent","opacity":"independent","xOffset":"independent"}},
   "vconcat":[
   {"title":{"text":"h","dx":-37,"offset":2},
    "width":458,"height":85,
    "layer":[
     {"data":{"name":"cytoK"},"mark":{"type":"area","clip":true,"opacity":1},
      "encoding":{
       "x":{"field":"c","type":"ordinal","scale":{"type":"point","padding":0.3,"domain":["IL-2","IL-4","IL-5","IL-13","IL-1a","IL-1b","IL-18","TNF-a","IL-6","LIF","IL-10","IL-12","IL-27","IL-22","IL-23","IL-17A","CXCL-1","MIP-2","MIP-1α","MIP-1β","MCP-1","MCP-3","RANTES","CXCL5","IP-10","Eotaxin","GM-CSF","G-CSF","MCSF","IFN-α","IFN-γ"]},"axis":{"title":null,"labels":false}},
       "y":{"field":"mpo","type":"quantitative","scale":{"type":"log","domain":[1,27000]},"axis":{"values":[1,10,100,1000,10000],"labelExpr":"datum.value == 1 ? '1' : datum.value == 100 ? '10²' : datum.value == 10000 ? '10⁴' : ''","title":null}},
       "y2":{"datum":1},
       "fill":{"datum":"MPO -/- (N=5)","scale":{"domain":["WT ( N=5)","MPO -/- (N=5)"],"range":["#8fd4f2","#ef8a70"]},
        "legend":{"orient":"none","legendX":358,"legendY":-9,"title":null,"symbolType":"square","symbolSize":110,"labelFontSize":12.5,"rowPadding":2,"symbolStrokeWidth":0,"encode":{"symbols":{"update":{"fill":{"signal":"datum.value === 'WT ( N=5)' ? '#a8a8a8' : '#ef8a70'"},"opacity":{"value":1}}}}}}}},
     {"data":{"name":"cytoK"},"mark":{"type":"area","clip":true,"opacity":0.8},
      "encoding":{"x":{"field":"c","type":"ordinal"},"y":{"field":"wt","type":"quantitative"},"y2":{"datum":1},"fill":{"datum":"WT ( N=5)"}}},
     {"data":{"name":"cytoK"},"mark":{"type":"tick","orient":"horizontal","color":"#222","size":6,"thickness":1.2},"encoding":{"x":{"field":"c","type":"ordinal"},"y":{"field":"mpo","type":"quantitative"}}},
     {"data":{"name":"cytoK"},"mark":{"type":"tick","orient":"horizontal","color":"#222","size":6,"thickness":1.2},"encoding":{"x":{"field":"c","type":"ordinal"},"y":{"field":"wt","type":"quantitative"}}},
     {"data":{"values":[{}]},"mark":{"type":"text","fontSize":12.5,"baseline":"middle"},"encoding":{"x":{"datum":"IL-17A"},"y":{"datum":60000},"text":{"value":"Kidney"}}}
    ]},
   {"width":458,"height":87,
    "layer":[
     {"data":{"name":"cytoP"},"mark":{"type":"area","clip":true,"opacity":1},
      "encoding":{
       "x":{"field":"c","type":"ordinal","scale":{"type":"point","padding":0.3,"domain":["IL-2","IL-4","IL-5","IL-13","IL-1a","IL-1b","IL-18","TNF-a","IL-6","LIF","IL-10","IL-12","IL-27","IL-22","IL-23","IL-17A","CXCL-1","MIP-2","MIP-1α","MIP-1β","MCP-1","MCP-3","RANTES","CXCL5","IP-10","Eotaxin","GM-CSF","G-CSF","MCSF","IFN-α","IFN-γ"]},"axis":{"title":null,"labels":false}},
       "y":{"field":"mpo","type":"quantitative","scale":{"type":"log","domain":[1,14500]},"axis":{"values":[1,10,100,1000,10000],"labelExpr":"datum.value == 1 ? '1' : datum.value == 100 ? '10²' : datum.value == 10000 ? '10⁴' : ''","title":"Log₁₀ pg/ml"}},
       "y2":{"datum":1},
       "fill":{"datum":"MPO -/- (N=5)","scale":{"domain":["WT ( N=5)","MPO -/- (N=5)"],"range":["#8fd4f2","#ef8a70"]},"legend":null}}},
     {"data":{"name":"cytoP"},"mark":{"type":"area","clip":true,"opacity":0.8},
      "encoding":{"x":{"field":"c","type":"ordinal"},"y":{"field":"wt","type":"quantitative"},"y2":{"datum":1},"fill":{"datum":"WT ( N=5)"}}},
     {"data":{"name":"cytoP"},"mark":{"type":"tick","orient":"horizontal","color":"#222","size":6,"thickness":1.2},"encoding":{"x":{"field":"c","type":"ordinal"},"y":{"field":"mpo","type":"quantitative"}}},
     {"data":{"name":"cytoP"},"mark":{"type":"tick","orient":"horizontal","color":"#222","size":6,"thickness":1.2},"encoding":{"x":{"field":"c","type":"ordinal"},"y":{"field":"wt","type":"quantitative"}}},
     {"data":{"values":[{}]},"mark":{"type":"text","fontSize":12.5,"baseline":"middle"},"encoding":{"x":{"datum":"IL-17A"},"y":{"datum":20000},"text":{"value":"Plasma"}}}
    ]},
   {"width":458,"height":87,
    "layer":[
     {"data":{"name":"cytoS"},"mark":{"type":"area","clip":true,"opacity":1},
      "encoding":{
       "x":{"field":"c","type":"ordinal","scale":{"type":"point","padding":0.3,"domain":["IL-2","IL-4","IL-5","IL-13","IL-1a","IL-1b","IL-18","TNF-a","IL-6","LIF","IL-10","IL-12","IL-27","IL-22","IL-23","IL-17A","CXCL-1","MIP-2","MIP-1α","MIP-1β","MCP-1","MCP-3","RANTES","CXCL5","IP-10","Eotaxin","GM-CSF","G-CSF","MCSF","IFN-α","IFN-γ"]},"axis":{"title":null,"labelAngle":-45,"labelFontSize":11.5}},
       "y":{"field":"mpo","type":"quantitative","scale":{"type":"log","domain":[2.1,8300]},"axis":{"values":[10,100,1000],"labelExpr":"datum.value == 10 ? '10' : datum.value == 100 ? '10²' : '10³'","title":null}},
       "y2":{"datum":1},
       "fill":{"datum":"MPO -/- (N=5)","scale":{"domain":["WT ( N=5)","MPO -/- (N=5)"],"range":["#8fd4f2","#ef8a70"]},"legend":null}}},
     {"data":{"name":"cytoS"},"mark":{"type":"area","clip":true,"opacity":0.8},
      "encoding":{"x":{"field":"c","type":"ordinal"},"y":{"field":"wt","type":"quantitative"},"y2":{"datum":1},"fill":{"datum":"WT ( N=5)"}}},
     {"data":{"name":"cytoS"},"mark":{"type":"tick","orient":"horizontal","color":"#222","size":6,"thickness":1.2,"clip":true},"encoding":{"x":{"field":"c","type":"ordinal"},"y":{"field":"mpo","type":"quantitative"}}},
     {"data":{"name":"cytoS"},"mark":{"type":"tick","orient":"horizontal","color":"#222","size":6,"thickness":1.2,"clip":true},"encoding":{"x":{"field":"c","type":"ordinal"},"y":{"field":"wt","type":"quantitative"}}},
     {"data":{"values":[{}]},"mark":{"type":"text","fontSize":12.5,"baseline":"middle"},"encoding":{"x":{"datum":"IL-17A"},"y":{"datum":13500},"text":{"value":"Spleen"}}}
    ]}
  ],"spacing":19,"bounds":"flush"},
  {"resolve":{"scale":{"color":"independent","fill":"independent","stroke":"independent","strokeDash":"independent","opacity":"independent","xOffset":"independent"}},
   "vconcat":[
   {"resolve":{"scale":{"color":"independent","fill":"independent","stroke":"independent","strokeDash":"independent","opacity":"independent","xOffset":"independent"}},
    "hconcat":[
    {"title":{"text":"i","dx":-39,"offset":-4},
     "width":145,"height":96,
     "layer":[
      {"data":{"values":[{}]},"mark":{"type":"rule","strokeDash":[4,3],"color":"#333","strokeWidth":1},"encoding":{"x":{"datum":1,"type":"quantitative","scale":{"type":"log","domain":[0.1,100],"range":[0,81]},"axis":{"values":[0.1,1,10,100],"format":"~g","title":"Log₁₀ Fold change"}},"y":{"datum":0,"type":"quantitative","scale":{"domain":[0,6],"range":[96,14]},"axis":{"values":[0,2,4,6],"title":"-Log₁₀(P)"}},"y2":{"datum":6}}},
      {"data":{"name":"volS"},"mark":{"type":"circle","size":60,"stroke":"#333","strokeWidth":0.8,"opacity":1},
       "encoding":{"x":{"field":"fc","type":"quantitative"},"y":{"field":"p","type":"quantitative"},
        "fill":{"field":"sig","type":"nominal","scale":{"domain":["P>0.05","P<0.05"],"range":["#bdbdbd","#f3938b"]},
         "legend":{"orient":"none","legendX":46,"legendY":-23,"direction":"horizontal","title":null,"symbolType":"circle","symbolSize":70,"symbolStrokeColor":"#333","symbolStrokeWidth":0.8,"labelFontSize":12.5,"columnPadding":4,"labelOffset":2}}}},
      {"data":{"values":[{}]},"mark":{"type":"text","fontSize":12.5,"baseline":"middle"},"encoding":{"x":{"datum":3.16},"y":{"datum":6.95},"text":{"value":"Spleen"}}}
     ]},
    {"width":79,"height":96,
     "layer":[
      {"data":{"values":[{}]},"mark":{"type":"rule","strokeDash":[4,3],"color":"#333","strokeWidth":1},"encoding":{"x":{"datum":1,"type":"quantitative","scale":{"type":"log","domain":[0.1,100],"range":[0,79]},"axis":{"values":[0.1,1,10,100],"format":"~g","title":"Log₁₀ Fold change"}},"y":{"datum":0,"type":"quantitative","scale":{"domain":[0,6],"range":[96,14]},"axis":{"values":[0,2,4,6],"title":"-Log₁₀(P)"}},"y2":{"datum":6}}},
      {"data":{"name":"volP"},"mark":{"type":"circle","size":60,"stroke":"#333","strokeWidth":0.8,"opacity":1},
       "encoding":{"x":{"field":"fc","type":"quantitative"},"y":{"field":"p","type":"quantitative"},
        "fill":{"field":"sig","type":"nominal","scale":{"domain":["P>0.05","P<0.05"],"range":["#bdbdbd","#f3938b"]},"legend":null}}},
      {"data":{"values":[{}]},"mark":{"type":"text","fontSize":12.5,"baseline":"middle"},"encoding":{"x":{"datum":3.16},"y":{"datum":6.95},"text":{"value":"Plasma"}}}
     ]}
   ],"spacing":0,"bounds":"flush"},
   {"resolve":{"scale":{"color":"independent","fill":"independent","stroke":"independent","strokeDash":"independent","opacity":"independent","xOffset":"independent"}},
    "hconcat":[
    {"width":122,"height":116,
     "layer":[
      {"data":{"values":[{}]},"mark":{"type":"rule","strokeDash":[4,3],"color":"#333","strokeWidth":1},"encoding":{"x":{"datum":1,"type":"quantitative","scale":{"type":"log","domain":[0.1,100],"range":[0,82]},"axis":{"values":[0.1,1,10,100],"format":"~g","title":"Log₁₀ Fold change"}},"y":{"datum":0,"type":"quantitative","scale":{"domain":[0,6],"range":[116,35]},"axis":{"values":[0,2,4,6],"title":"-Log₁₀(P)"}},"y2":{"datum":6}}},
      {"data":{"name":"volK"},"mark":{"type":"circle","size":60,"stroke":"#333","strokeWidth":0.8,"opacity":1},
       "encoding":{"x":{"field":"fc","type":"quantitative"},"y":{"field":"p","type":"quantitative"},
        "fill":{"field":"sig","type":"nominal","scale":{"domain":["P>0.05","P<0.05"],"range":["#bdbdbd","#f3938b"]},"legend":null}}},
      {"data":{"values":[{}]},"mark":{"type":"text","fontSize":12.5,"baseline":"middle"},"encoding":{"x":{"datum":3.16},"y":{"datum":7.33},"text":{"value":"Kidney"}}}
     ]},
    {"title":{"text":"j","dx":-44,"offset":-27},
     "width":126,"height":119,
     "layer":[
      {"data":{"name":"diag"},"mark":{"type":"line","strokeDash":[5,4],"color":"#333","strokeWidth":1},
       "encoding":{"x":{"field":"x","type":"quantitative","scale":{"type":"log","base":2,"domain":[0.52,91],"nice":false},"axis":{"values":[1,4,16,64],"format":"~g","title":"Plasma cytokine fold change","titleFontSize":11.5}},
        "y":{"field":"y","type":"quantitative","scale":{"domain":[-3,6],"nice":false},"axis":{"values":[-2,0,2,4,6],"title":"Cytokine fold change"}}}},
      {"data":{"name":"jsc"},"mark":{"type":"circle","size":75,"stroke":"#333","strokeWidth":0.8,"opacity":1},
       "encoding":{"x":{"field":"x","type":"quantitative"},"y":{"field":"y","type":"quantitative"},
        "fill":{"field":"o","type":"nominal","scale":{"domain":["Spleen","Kidney"],"range":["#f3938b","#8dd3f0"]},
         "legend":{"orient":"none","legendX":4,"legendY":-24,"direction":"horizontal","title":null,"symbolType":"circle","symbolSize":90,"symbolStrokeColor":"#333","symbolStrokeWidth":0.8,"labelFontSize":12.5,"columnPadding":4,"labelOffset":2}}}}
     ]}
   ],"spacing":0,"bounds":"flush"}
  ],"spacing":28,"bounds":"full"}
 ],"spacing":-3,"bounds":"full"}
],
"spacing":-12,
"bounds":"full"
}
